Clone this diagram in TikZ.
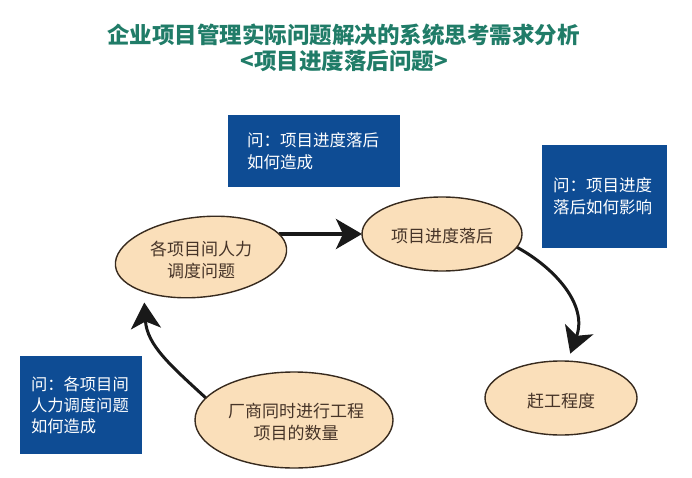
\documentclass[tikz,border=0pt]{standalone}
\usepackage{fontspec}
\newfontfamily\cjk{Noto Sans CJK SC}
\usetikzlibrary{shapes.geometric,arrows.meta,backgrounds}
\definecolor{titlegreen}{RGB}{32,124,104}
\definecolor{boxblue}{RGB}{14,76,148}
\definecolor{peach}{RGB}{250,223,186}
\definecolor{ellborder}{RGB}{55,42,30}
\definecolor{elltext}{RGB}{70,52,40}
\definecolor{arrowblack}{RGB}{25,25,25}
\begin{document}
\begin{tikzpicture}[x=1pt,y=-1pt,
  titletext/.style={font=\cjk\bfseries\fontsize{22.5}{27}\selectfont, text=titlegreen, inner sep=0},
  qbox/.style={fill=boxblue, draw=none, text=white, font=\cjk\fontsize{16.5}{22}\selectfont,
               align=left, inner ysep=0pt, outer sep=0pt, anchor=north west},
  ell/.style={ellipse, draw=ellborder, line width=1.4pt, fill=peach, inner sep=0pt, outer sep=0pt},
  etext/.style={font=\cjk\fontsize{17}{22}\selectfont, text=elltext, align=center, inner sep=0pt},
  conn/.style={draw=arrowblack, line width=3pt},
  bighead/.style={-{Stealth[length=26pt,width=30pt,inset=7pt]}},
]
\useasboundingbox (0,0) rectangle (692,478);

% titles
\node[titletext] (title1) at (343.5,35) {企业项目管理实际问题解决的系统思考需求分析};
\node[titletext] (title2) at (344,61) {<项目进度落后问题>};

% question boxes
\node[qbox, minimum width=172pt, minimum height=72pt, inner xsep=19pt, text width=134pt]
  (q1) at (228,115) {问：项目进度落后\\如何造成};
\node[qbox, minimum width=125pt, minimum height=103pt, inner xsep=11pt, text width=103pt]
  (q2) at (542,145) {问：项目进度\\落后如何影响};
\node[qbox, minimum width=122pt, minimum height=98pt, inner xsep=11pt, text width=100pt,
      font=\cjk\fontsize{16.3}{21}\selectfont]
  (q3) at (20,356) {问：各项目间\\人力调度问题\\如何造成};

% ellipses
\node[ell, minimum width=172pt, minimum height=80pt, rotate=6] (e1) at (201,257) {};
\node[etext] (e1t) at (201,260) {各项目间人力\\调度问题};
\node[ell, minimum width=160pt, minimum height=74pt] (e2) at (442,234) {};
\node[etext] (e2t) at (442,236) {项目进度落后};
\node[ell, minimum width=152pt, minimum height=74pt] (e3) at (561,398) {};
\node[etext] (e3t) at (561,401) {赶工程度};
\node[ell, minimum width=198pt, minimum height=96pt] (e4) at (294,420) {};
\node[etext] (e4t) at (296,422) {厂商同时进行工程\\项目的数量};

% connectors
\begin{scope}[on background layer]
  \fill[white] (0,0) rectangle (692,478);
  \draw[conn, line width=4pt, bighead] ([xshift=-8pt]e2.west -| e1.east) -- (e2.west);
  \draw[conn, bighead, shorten >=8pt] (e2.-10) .. controls (555,268) and (588,305) .. (e3.80);
  \draw[conn, bighead, shorten >=11pt] (e4.166) .. controls (170,365) and (147,345) .. (e1.205);
\end{scope}
\end{tikzpicture}
\end{document}
